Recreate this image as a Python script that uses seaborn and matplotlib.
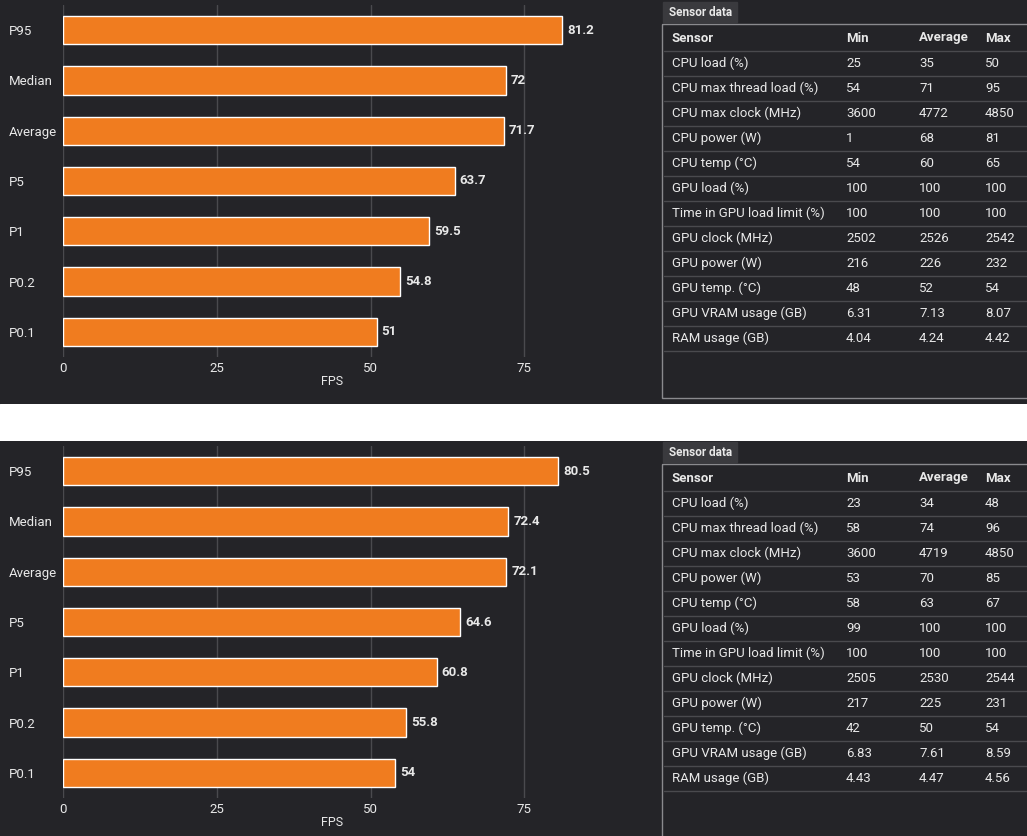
import matplotlib.pyplot as plt
import pandas as pd
import seaborn as sns

W, H = 1027, 836
BG = "#242428"
ORANGE = "#f07c1f"
TXT = "#e8e8e8"
GRID = "#4a4a4e"

labels = ["P95", "Median", "Average", "P5", "P1", "P0.2", "P0.1"]
fps_top = [81.2, 72, 71.7, 63.7, 59.5, 54.8, 51]
fps_bottom = [80.5, 72.4, 72.1, 64.6, 60.8, 55.8, 54]

sensors = ["CPU load (%)", "CPU max thread load (%)", "CPU max clock (MHz)", "CPU power (W)",
           "CPU temp (°C)", "GPU load (%)", "Time in GPU load limit (%)", "GPU clock (MHz)",
           "GPU power (W)", "GPU temp. (°C)", "GPU VRAM usage (GB)", "RAM usage (GB)"]
top_min = ["25", "54", "3600", "1", "54", "100", "100", "2502", "216", "48", "6.31", "4.04"]
top_avg = ["35", "71", "4772", "68", "60", "100", "100", "2526", "226", "52", "7.13", "4.24"]
top_max = ["50", "95", "4850", "81", "65", "100", "100", "2542", "232", "54", "8.07", "4.42"]
bot_min = ["23", "58", "3600", "53", "58", "99", "100", "2505", "217", "42", "6.83", "4.43"]
bot_avg = ["34", "74", "4719", "70", "63", "100", "100", "2530", "225", "50", "7.61", "4.47"]
bot_max = ["48", "96", "4850", "85", "67", "100", "100", "2544", "231", "54", "8.59", "4.56"]

sns.set_theme(style="dark")
plt.rcParams["font.family"] = ["Roboto", "DejaVu Sans"]

fig = plt.figure(figsize=(W / 100, H / 100), dpi=100, facecolor=BG)


def px_axes(x0, y0, x1, y1):
    return fig.add_axes([x0 / W, 1 - y1 / H, (x1 - x0) / W, (y1 - y0) / H])


# white separator strip
strip = px_axes(0, 404, W, 441)
strip.set_facecolor("white")
strip.set_axis_off()
strip.add_patch(plt.Rectangle((0, 0), 1, 1, color="white", transform=strip.transAxes))


def bar_panel(y0, y1, values, xmax):
    ax = px_axes(63, y0, 63 + xmax * 6.15, y1)
    df = pd.DataFrame({"label": labels, "fps": values})
    sns.barplot(data=df, x="fps", y="label", color=ORANGE, saturation=1, width=0.56, ax=ax)
    ax.set_facecolor(BG)
    ax.set_xlim(0, xmax)
    ax.set_xticks([0, 25, 50, 75])
    ax.grid(axis="x", color=GRID, linewidth=1)
    ax.set_axisbelow(True)
    for s in ax.spines.values():
        s.set_visible(False)
    ax.tick_params(colors=TXT, labelsize=9.5, length=0)
    for t in ax.get_yticklabels():
        t.set_ha("left")
        t.set_x(-0.1)
    ax.yaxis.set_tick_params(pad=0)
    ax.set_ylabel("")
    ax.set_xlabel("FPS", color=TXT, fontsize=9, labelpad=0)
    for i, v in enumerate(values):
        ax.text(v + 0.8, i, f"{v:g}", va="center", ha="left", color=TXT,
                fontsize=9.5, fontweight="bold")
    return ax


def table_panel(y0, mins, avgs, maxs):
    ax = px_axes(0, 0, W, H)
    ax.set_xlim(0, W)
    ax.set_ylim(H, 0)
    ax.set_axis_off()
    ax.add_patch(plt.Rectangle((663, y0), 74, 20, color="#3a3a3e"))
    ax.text(669, y0 + 10, "Sensor data", color=TXT, fontsize=8.5, fontweight="bold", va="center")
    box_top = y0 + 22
    ax.add_patch(plt.Rectangle((662, box_top), 380, 374, fill=False, edgecolor="#8a8a8e", lw=1))
    cols = [672, 846, 919, 985]
    header = ["Sensor", "Min", "Average", "Max"]
    ry = box_top + 14
    for c, h in zip(cols, header):
        ax.text(c, ry, h, color=TXT, fontsize=9.5, fontweight="bold", va="center")
    for i in range(len(sensors)):
        ly = box_top + 27 + i * 25
        ax.plot([664, W], [ly, ly], color="#4a4a4e", lw=1)
        yy = ly + 12.5
        for c, v in zip(cols, [sensors[i], mins[i], avgs[i], maxs[i]]):
            ax.text(c, yy, v, color=TXT, fontsize=9.5, va="center")
    ly = box_top + 27 + len(sensors) * 25
    ax.plot([664, W], [ly, ly], color="#4a4a4e", lw=1)


bar_panel(5, 357, fps_top, 87.5)
bar_panel(446, 798, fps_bottom, 87.5)
table_panel(2, top_min, top_avg, top_max)
table_panel(442, bot_min, bot_avg, bot_max)

fig.savefig("out.png", dpi=100, facecolor=BG)
